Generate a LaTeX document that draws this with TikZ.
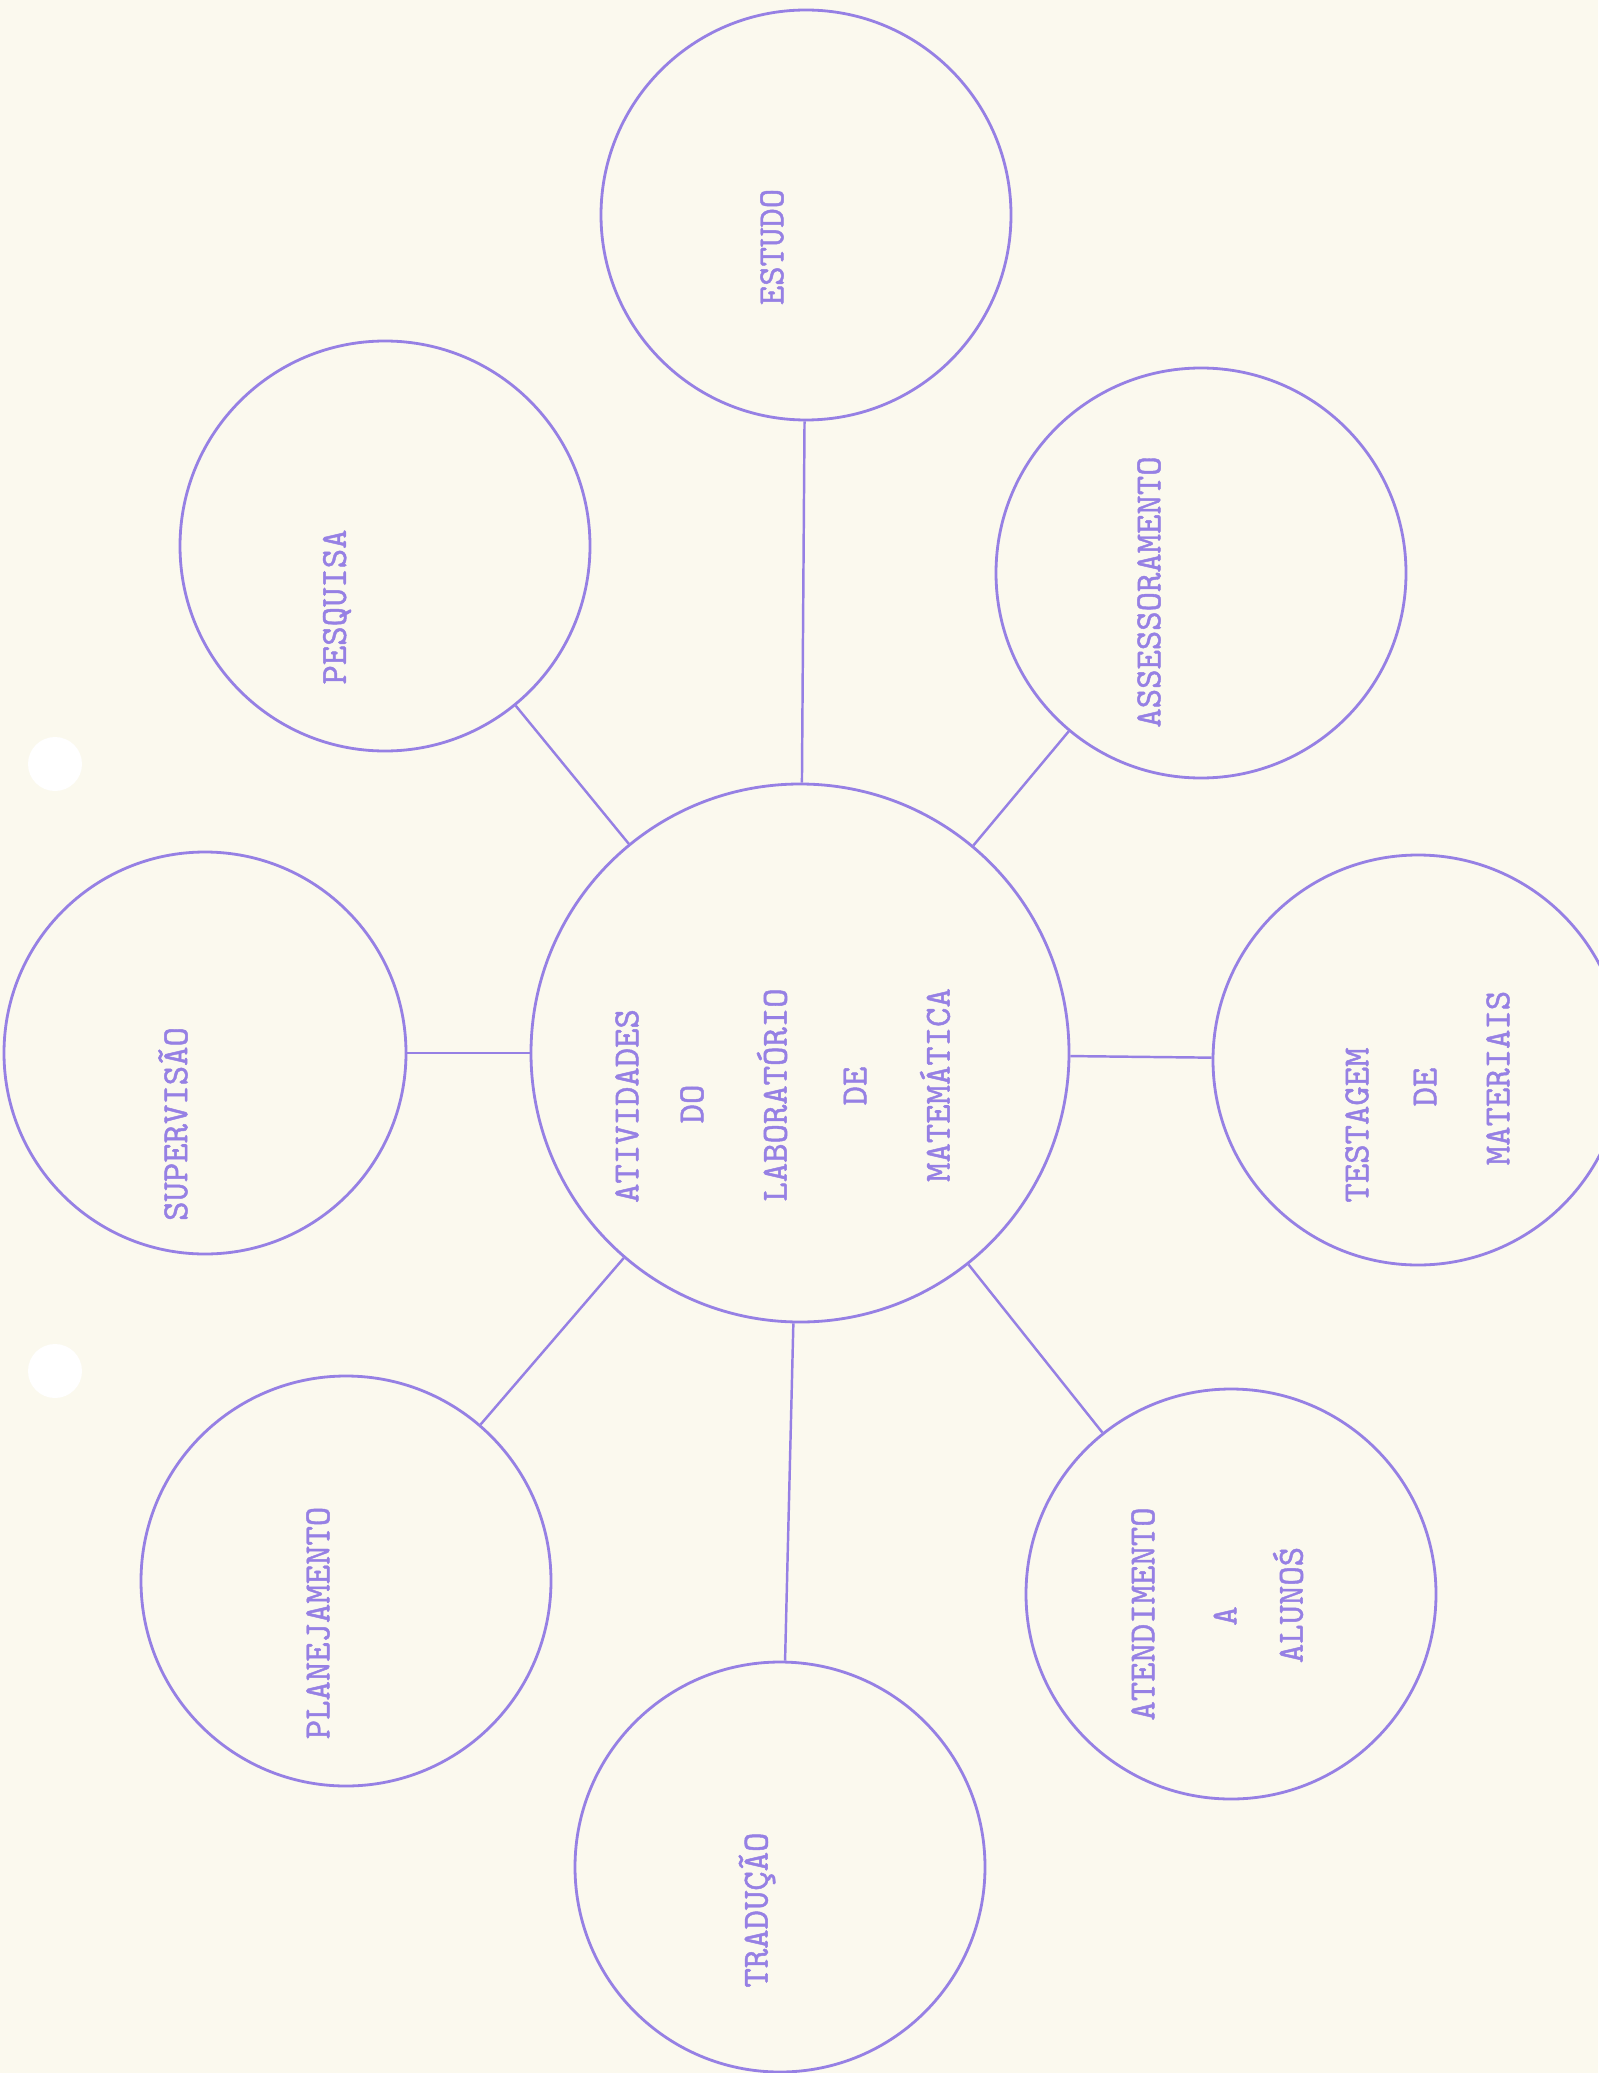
\documentclass[tikz,border=0pt]{standalone}
\usepackage{fontspec}
\newfontfamily\maquina[FakeBold=1.2]{Latin Modern Mono}
\usepackage{tikz}
\usetikzlibrary{positioning}
\definecolor{mimeo}{RGB}{150,128,228}
\definecolor{papel}{RGB}{251,249,238}

\begin{document}
\begin{tikzpicture}[
            bolha/.style={draw=mimeo, circle, line width=0.8pt, minimum size=4.1cm, inner sep=0pt},
            rotulo/.style={text=mimeo, rotate=90, inner sep=0pt, font=\maquina\fontsize{10.5}{12}\selectfont},
            elo/.style={mimeo, line width=0.7pt}
        ]
            % folha
            \fill [papel] (0,0) rectangle (15.98,-20.73);
            \useasboundingbox (0,0) rectangle (15.98,-20.73);
            \fill [white] (0.55,-7.64) circle (0.27);
            \fill [white] (0.55,-13.71) circle (0.27);

            \node (centro) [bolha, minimum size=5.38cm] at (8.00,-10.53) {};
            \node (estudo) [bolha] at (8.06,-2.15) {};
            \node (pesquisa) [bolha] at (3.85,-5.46) {};
            \node (assess) [bolha] at (12.01,-5.73) {};
            \node (superv) [bolha, minimum size=4.02cm] at (2.05,-10.53) {};
            \node (testagem) [bolha] at (14.18,-10.60) {};
            \node (planej) [bolha] at (3.46,-15.81) {};
            \node (atend) [bolha] at (12.31,-15.94) {};
            \node (traducao) [bolha] at (7.80,-18.67) {};

            % textos
            \node (t-ativ) [rotulo] at (6.27,-11.06) {ATIVIDADES};
            \node (t-do) [rotulo] at (6.92,-11.04) {DO};
            \node (t-lab) [rotulo] at (7.72,-10.95) {LABORATÓRIO};
            \node (t-de) [rotulo] at (8.55,-10.86) {DE};
            \node (t-mat) [rotulo] at (9.35,-10.85) {MATEMÁTICA};
            \node (t-estudo) [rotulo] at (7.72,-2.47) {ESTUDO};
            \node (t-pesquisa) [rotulo] at (3.37,-6.07) {PESQUISA};
            \node (t-assess) [rotulo] at (11.49,-5.92) {ASSESSORAMENTO};
            \node (t-superv) [rotulo] at (1.73,-11.24) {SUPERVISÃO};
            \node (t-testagem) [rotulo] at (13.57,-11.25) {TESTAGEM};
            \node (t-de2) [rotulo] at (14.25,-10.87) {DE};
            \node (t-materiais) [rotulo] at (14.98,-10.78) {MATERIAIS};
            \node (t-planej) [rotulo] at (3.18,-16.23) {PLANEJAMENTO};
            \node (t-atend) [rotulo] at (11.43,-16.14) {ATENDIMENTO};
            \node (t-a) [rotulo] at (12.25,-16.16) {A};
            \node (t-alunos) [rotulo] at (12.88,-16.05) {ALUNOŚ};
            \node (t-traducao) [rotulo] at (7.57,-19.10) {TRADUÇÃO};

            \draw [elo] (centro) -- (estudo);
            \draw [elo] (centro) -- (pesquisa);
            \draw [elo] (centro) -- (assess);
            \draw [elo] (centro) -- (superv);
            \draw [elo] (centro) -- (testagem);
            \draw [elo] (centro) -- (planej);
            \draw [elo] (centro) -- (atend);
            \draw [elo] (centro) -- (traducao);
        \end{tikzpicture}
\end{document}
